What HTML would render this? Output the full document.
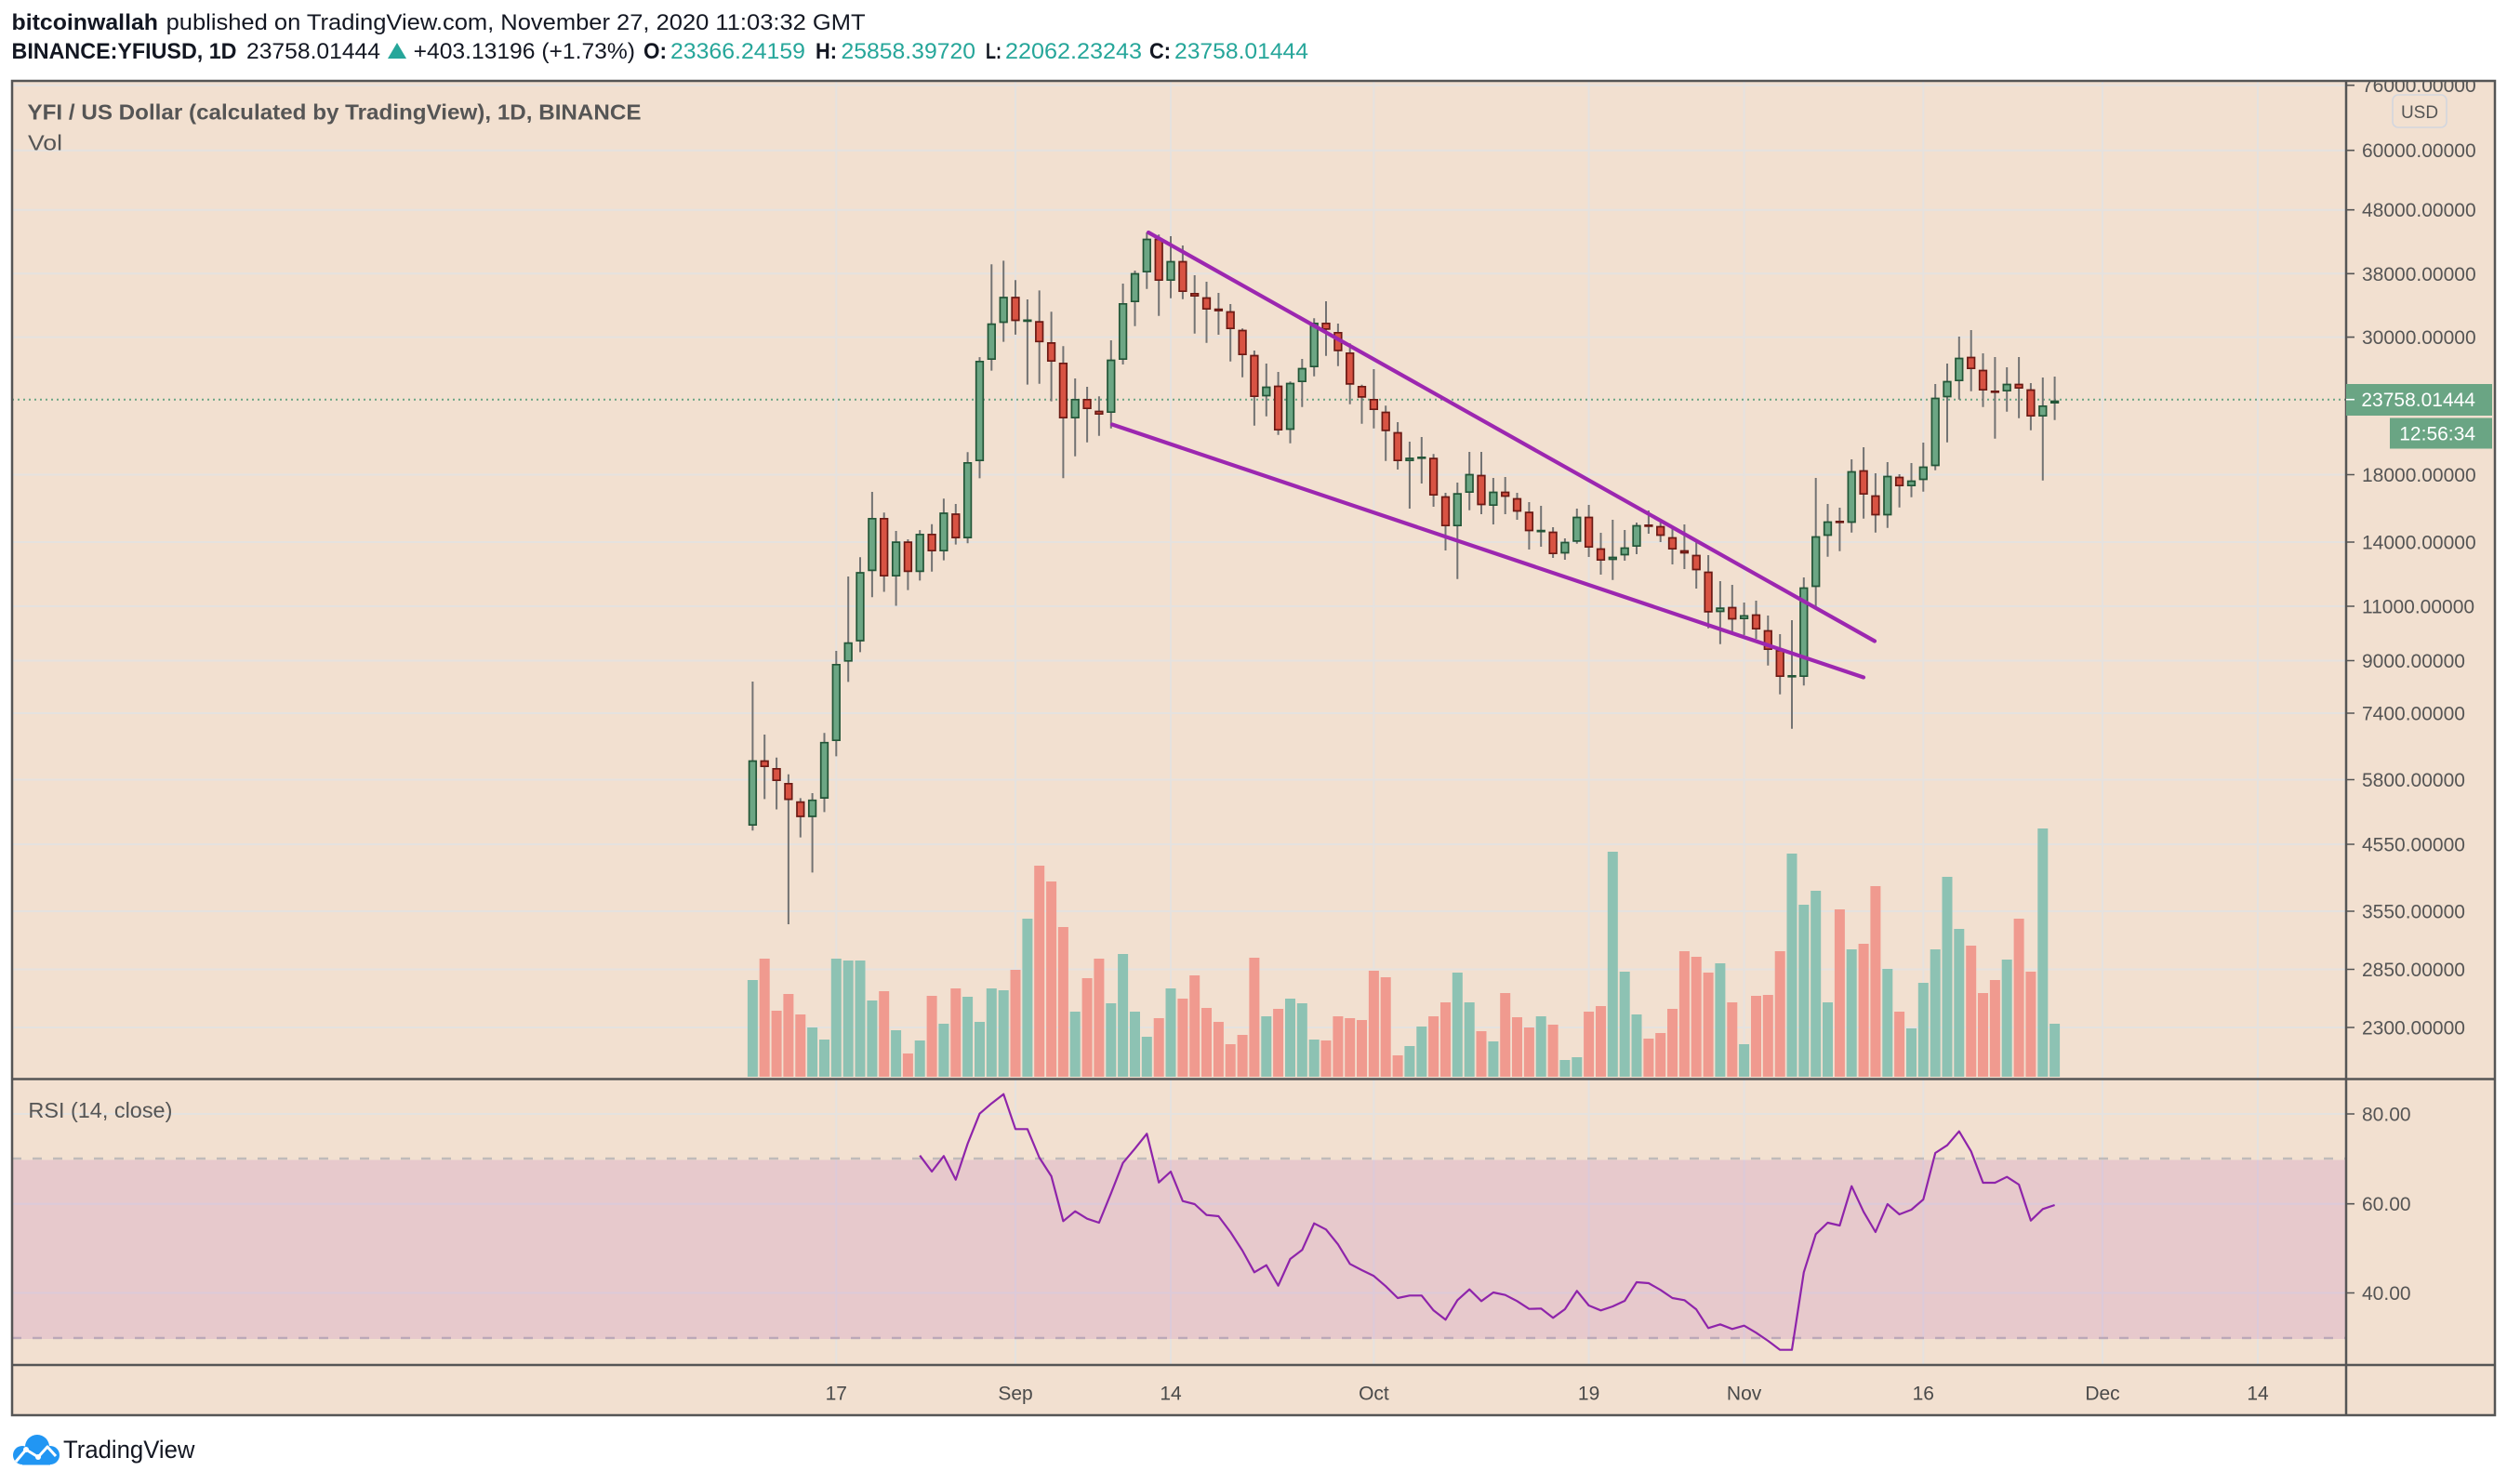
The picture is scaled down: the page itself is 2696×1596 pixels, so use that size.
<!DOCTYPE html>
<html><head><meta charset="utf-8"><style>
html,body{margin:0;padding:0;background:#fff;}
body{width:2696px;height:1596px;overflow:hidden;}
svg{display:block;}
text{font-family:"Liberation Sans",Arial,sans-serif;}
</style></head><body>
<svg width="2696" height="1596" viewBox="0 0 2696 1596" xmlns="http://www.w3.org/2000/svg">
<defs>
<clipPath id="mainclip"><rect x="14" y="88" width="2508" height="1071"/></clipPath>
<clipPath id="axclip"><rect x="2524" y="88" width="158" height="1071"/></clipPath>
</defs>
<rect x="0" y="0" width="2696" height="1596" fill="#ffffff"/>
<!-- header -->
<text x="12.5" y="32" font-size="24" font-weight="700" fill="#131722" textLength="157.5" lengthAdjust="spacingAndGlyphs">bitcoinwallah</text>
<text x="178.6" y="32" font-size="24" fill="#131722" textLength="752" lengthAdjust="spacingAndGlyphs">published on TradingView.com, November 27, 2020 11:03:32 GMT</text>
<text x="12.5" y="63" font-size="24" font-weight="700" fill="#131722" textLength="242" lengthAdjust="spacingAndGlyphs">BINANCE:YFIUSD, 1D</text>
<text x="265" y="63" font-size="24" fill="#131722" textLength="144" lengthAdjust="spacingAndGlyphs">23758.01444</text>
<polygon points="417,63 437,63 427,46" fill="#26a69a"/>
<text x="444.6" y="63" font-size="24" fill="#131722" textLength="238.4" lengthAdjust="spacingAndGlyphs">+403.13196 (+1.73%)</text>
<text x="692" y="63" font-size="24" font-weight="700" fill="#131722" textLength="25" lengthAdjust="spacingAndGlyphs">O:</text>
<text x="721" y="63" font-size="24" fill="#26a69a" textLength="145" lengthAdjust="spacingAndGlyphs">23366.24159</text>
<text x="877" y="63" font-size="24" font-weight="700" fill="#131722" textLength="23" lengthAdjust="spacingAndGlyphs">H:</text>
<text x="904.5" y="63" font-size="24" fill="#26a69a" textLength="144.5" lengthAdjust="spacingAndGlyphs">25858.39720</text>
<text x="1060" y="63" font-size="24" font-weight="700" fill="#131722" textLength="17" lengthAdjust="spacingAndGlyphs">L:</text>
<text x="1081" y="63" font-size="24" fill="#26a69a" textLength="147" lengthAdjust="spacingAndGlyphs">22062.23243</text>
<text x="1236" y="63" font-size="24" font-weight="700" fill="#131722" textLength="23" lengthAdjust="spacingAndGlyphs">C:</text>
<text x="1263" y="63" font-size="24" fill="#26a69a" textLength="144" lengthAdjust="spacingAndGlyphs">23758.01444</text>

<!-- chart background -->
<rect x="13" y="87" width="2670" height="1435" fill="#f2e0d0"/>

<!-- vertical gridlines -->
<path d="M899.3 87V1468M1092 87V1468M1259 87V1468M1477.4 87V1468M1708.6 87V1468M1875.6 87V1468M2068.3 87V1468M2261 87V1468M2428 87V1468" stroke="#e5e2df" stroke-width="2" fill="none"/>
<!-- horizontal gridlines main -->
<path d="M13 91.7H2523M13 161.7H2523M13 225.7H2523M13 294.3H2523M13 362.6H2523M13 510.5H2523M13 583H2523M13 652H2523M13 710.5H2523M13 767H2523M13 838.5H2523M13 908H2523M13 980H2523M13 1042.5H2523M13 1105H2523" stroke="#e5e2df" stroke-width="2" fill="none"/>
<!-- RSI gridlines -->
<path d="M13 1198H2523M13 1294.7H2523M13 1390.5H2523" stroke="#e5e2df" stroke-width="2" fill="none"/>
<!-- RSI dashed levels -->
<path d="M13 1246H2523" stroke="#c0bbba" stroke-width="2.5" stroke-dasharray="10 12" fill="none"/>
<path d="M13 1439H2523" stroke="#c0bbba" stroke-width="2.5" stroke-dasharray="10 12" fill="none"/>
<!-- RSI band -->
<rect x="13" y="1247.5" width="2510" height="192.5" fill="rgba(156,39,176,0.125)"/>

<g clip-path="url(#mainclip)">
<!-- volume green -->
<path fill="#8dc2b3" d="M803.9 1054h11V1158h-11zM868.1 1105h11V1158h-11zM881 1118h11V1158h-11zM893.8 1031h11V1158h-11zM906.7 1033h11V1158h-11zM919.5 1033h11V1158h-11zM932.4 1076h11V1158h-11zM958.1 1108h11V1158h-11zM983.7 1119h11V1158h-11zM1009.4 1101h11V1158h-11zM1035.1 1072h11V1158h-11zM1048 1099h11V1158h-11zM1060.8 1063h11V1158h-11zM1073.7 1065h11V1158h-11zM1099.4 988h11V1158h-11zM1150.7 1088h11V1158h-11zM1189.3 1079h11V1158h-11zM1202.1 1026h11V1158h-11zM1215 1088h11V1158h-11zM1227.8 1115h11V1158h-11zM1253.5 1063h11V1158h-11zM1356.3 1093h11V1158h-11zM1382 1074h11V1158h-11zM1394.8 1079h11V1158h-11zM1407.7 1118h11V1158h-11zM1510.4 1125h11V1158h-11zM1523.3 1104h11V1158h-11zM1561.8 1046h11V1158h-11zM1574.7 1078h11V1158h-11zM1600.4 1120h11V1158h-11zM1651.7 1093h11V1158h-11zM1677.4 1140h11V1158h-11zM1690.3 1137h11V1158h-11zM1728.8 916h11V1158h-11zM1741.7 1045h11V1158h-11zM1754.5 1091h11V1158h-11zM1844.4 1036h11V1158h-11zM1870.1 1123h11V1158h-11zM1921.5 918h11V1158h-11zM1934.3 973h11V1158h-11zM1947.2 958h11V1158h-11zM1960 1078h11V1158h-11zM1985.7 1021h11V1158h-11zM2024.3 1042h11V1158h-11zM2050 1106h11V1158h-11zM2062.8 1057h11V1158h-11zM2075.7 1021h11V1158h-11zM2088.5 943h11V1158h-11zM2101.3 999h11V1158h-11zM2152.7 1032h11V1158h-11zM2191.3 891h11V1158h-11zM2204.1 1101h11V1158h-11z"/>
<!-- volume red -->
<path fill="#f09a8f" d="M816.7 1031h11V1158h-11zM829.6 1087h11V1158h-11zM842.4 1069h11V1158h-11zM855.3 1091h11V1158h-11zM945.2 1066h11V1158h-11zM970.9 1133h11V1158h-11zM996.6 1071h11V1158h-11zM1022.3 1063h11V1158h-11zM1086.5 1043h11V1158h-11zM1112.2 931h11V1158h-11zM1125.1 948h11V1158h-11zM1137.9 997h11V1158h-11zM1163.6 1052h11V1158h-11zM1176.4 1031h11V1158h-11zM1240.7 1095h11V1158h-11zM1266.4 1074h11V1158h-11zM1279.2 1049h11V1158h-11zM1292 1084h11V1158h-11zM1304.9 1099h11V1158h-11zM1317.7 1123h11V1158h-11zM1330.6 1113h11V1158h-11zM1343.4 1030h11V1158h-11zM1369.1 1085h11V1158h-11zM1420.5 1119h11V1158h-11zM1433.4 1093h11V1158h-11zM1446.2 1095h11V1158h-11zM1459 1097h11V1158h-11zM1471.9 1044h11V1158h-11zM1484.7 1051h11V1158h-11zM1497.6 1135h11V1158h-11zM1536.1 1093h11V1158h-11zM1549 1078h11V1158h-11zM1587.5 1109h11V1158h-11zM1613.2 1068h11V1158h-11zM1626 1094h11V1158h-11zM1638.9 1105h11V1158h-11zM1664.6 1102h11V1158h-11zM1703.1 1088h11V1158h-11zM1716 1082h11V1158h-11zM1767.4 1117h11V1158h-11zM1780.2 1111h11V1158h-11zM1793 1085h11V1158h-11zM1805.9 1023h11V1158h-11zM1818.7 1029h11V1158h-11zM1831.6 1046h11V1158h-11zM1857.3 1078h11V1158h-11zM1883 1071h11V1158h-11zM1895.8 1070h11V1158h-11zM1908.7 1023h11V1158h-11zM1972.9 978h11V1158h-11zM1998.6 1015h11V1158h-11zM2011.4 953h11V1158h-11zM2037.1 1088h11V1158h-11zM2114.2 1017h11V1158h-11zM2127 1068h11V1158h-11zM2139.9 1054h11V1158h-11zM2165.6 988h11V1158h-11zM2178.4 1045h11V1158h-11z"/>

<!-- price line -->
<path d="M13 429.7H2523" stroke="#6aa584" stroke-width="2" stroke-dasharray="2 4" fill="none"/>

<!-- wicks -->
<path fill="none" stroke="#737373" stroke-width="2" d="M809.4 733V893.3M822.2 790V859.4M835.1 814.8V870.5M847.9 832.8V994M860.8 858.4V900.6M873.6 853V938.4M886.5 788.2V873.4M899.3 700V813.4M912.2 620V733.4M925 599.2V701.4M937.9 529V642.3M950.7 551.2V636.5M963.6 571V651.5M976.4 580V634.6M989.2 570.1V624.4M1002.1 563.8V614.7M1014.9 536.2V602.6M1027.8 542V585.6M1040.6 486.3V584.2M1053.5 384.1V514.4M1066.3 284.3V398.6M1079.2 280.4V367.6M1092 301.2V359.9M1104.9 322V413.6M1117.7 312.4V412.7M1130.6 335.2V431.6M1143.4 372.3V514.3M1156.2 407V490.7M1169.1 416V475.7M1181.9 426.3V468.7M1194.8 366V460.7M1207.6 305V392M1220.5 291V350.7M1233.3 250V310.7M1246.2 252.3V339.7M1259 254V320.7M1271.9 264V321.7M1284.7 296V358.7M1297.5 303V368.7M1310.4 315V360M1323.2 327V388.7M1336.1 353.3V405.7M1348.9 377V457.7M1361.8 391V447.7M1374.6 400V467.7M1387.5 410.3V476.7M1400.3 386V437.7M1413.2 342.3V404.7M1426 324V382.7M1438.9 348V393.7M1451.7 369.3V434.7M1464.5 413.7V455.7M1477.4 397V460.7M1490.2 436.3V495.7M1503.1 454V505M1515.9 475V547M1528.8 470V520M1541.6 488.3V545M1554.5 530V592M1567.3 519V622.7M1580.2 486V548.7M1593 486V553M1605.9 514V564M1618.7 513V553M1631.5 530V559M1644.4 540V591M1657.2 544V588M1670.1 567V600M1682.9 579V602M1695.8 547V584.7M1708.6 543V599M1721.5 573V618M1734.3 559V623.7M1747.2 570V603M1760 562V596M1772.9 549V574M1785.7 561.7V583M1798.5 568V607M1811.4 564V612M1824.2 583.3V633M1837.1 597V675.7M1849.9 625V692.7M1862.8 629V680.7M1875.6 648V683M1888.5 646V687.3M1901.3 662V715.7M1914.2 682V746.7M1927 667V783.7M1939.8 621V737.3M1952.7 514V652.7M1965.5 542V598.7M1978.4 546V592.7M1991.2 494V572.7M2004.1 481V557.7M2016.9 509V572.7M2029.8 497V567.7M2042.6 510V545.7M2055.5 498V534.7M2068.3 476V528.7M2081.2 413V505.7M2094 391V475.7M2106.8 362V429.7M2119.7 355V420.7M2132.5 380V437.7M2145.4 384V471.7M2158.2 395V442.7M2171.1 384V449.7M2183.9 412V462.7M2196.8 406V516.7M2209.6 405V451.7"/>

<!-- green bodies -->
<path fill="#6ca684" stroke="#235537" stroke-width="1.7" d="M805.6 818.5h7.6v68.7h-7.6zM869.8 860.7h7.6v17.3h-7.6zM882.7 798.7h7.6v59.4h-7.6zM895.5 714.8h7.6v81.4h-7.6zM908.4 691.6h7.6v19.2h-7.6zM921.2 616h7.6v73h-7.6zM934.1 557.8h7.6v55.6h-7.6zM959.8 583.1h7.6v36.1h-7.6zM985.4 574.8h7.6v39.6h-7.6zM1011.1 552h7.6v40.2h-7.6zM1036.8 497.8h7.6v80.3h-7.6zM1049.7 388.8h7.6v106.4h-7.6zM1062.5 348.6h7.6v37.6h-7.6zM1075.4 320h7.6v26.5h-7.6zM1101.1 344.4h7.6v1h-7.6zM1152.4 429.8h7.6v19.4h-7.6zM1191 387.5h7.6v55.7h-7.6zM1203.8 326.8h7.6v59.4h-7.6zM1216.7 294.5h7.6v29.7h-7.6zM1229.5 257.5h7.6v34.7h-7.6zM1255.2 281.5h7.6v19.7h-7.6zM1358 416.5h7.6v9h-7.6zM1383.7 412.5h7.6v49h-7.6zM1396.5 396.5h7.6v13.7h-7.6zM1409.4 347.8h7.6v46.4h-7.6zM1512.1 493h7.6v2.2h-7.6zM1525 491.8h7.6v1h-7.6zM1563.5 531.1h7.6v34.1h-7.6zM1576.4 510.5h7.6v18.7h-7.6zM1602.1 529.5h7.6v13.7h-7.6zM1653.4 570.6h7.6v1h-7.6zM1679.1 583.5h7.6v11h-7.6zM1692 556.5h7.6v25.4h-7.6zM1730.5 599.5h7.6v2h-7.6zM1743.4 589.5h7.6v7h-7.6zM1756.2 565.5h7.6v21.7h-7.6zM1846.1 654.1h7.6v3.4h-7.6zM1871.8 662.3h7.6v2.9h-7.6zM1923.2 726.8h7.6v1h-7.6zM1936 632.5h7.6v94.7h-7.6zM1948.9 577.5h7.6v53h-7.6zM1961.7 561.5h7.6v14h-7.6zM1987.4 507.5h7.6v54h-7.6zM2026 512.5h7.6v41h-7.6zM2051.7 517.5h7.6v4.7h-7.6zM2064.5 502.5h7.6v13h-7.6zM2077.4 428.5h7.6v72h-7.6zM2090.2 410.5h7.6v16h-7.6zM2103 385.5h7.6v23.7h-7.6zM2154.4 413.5h7.6v6.7h-7.6zM2193 436.8h7.6v10.4h-7.6zM2205.8 431.5h7.6v1.7h-7.6z"/>
<!-- red bodies -->
<path fill="#d85343" stroke="#6b1a14" stroke-width="1.7" d="M818.4 818.5h7.6v5.7h-7.6zM831.3 826.8h7.6v12.4h-7.6zM844.1 842.8h7.6v16.8h-7.6zM857 862.6h7.6v15.4h-7.6zM946.9 557.8h7.6v61.4h-7.6zM972.6 583.1h7.6v31.3h-7.6zM998.3 574.8h7.6v17.4h-7.6zM1024 553h7.6v25.1h-7.6zM1088.2 320h7.6v24.5h-7.6zM1113.9 346.1h7.6v21.2h-7.6zM1126.8 368.9h7.6v19.3h-7.6zM1139.6 390.8h7.6v58.4h-7.6zM1165.3 429.8h7.6v9.4h-7.6zM1178.1 442.5h7.6v2.7h-7.6zM1242.4 257.5h7.6v43.7h-7.6zM1268.1 281.5h7.6v31.7h-7.6zM1280.9 315.8h7.6v2.4h-7.6zM1293.7 320.5h7.6v11.7h-7.6zM1306.6 332.6h7.6v1.4h-7.6zM1319.4 335.5h7.6v17.7h-7.6zM1332.3 355.5h7.6v25.7h-7.6zM1345.1 382.5h7.6v43.7h-7.6zM1370.8 415.5h7.6v46.7h-7.6zM1422.2 347.8h7.6v6.1h-7.6zM1435.1 357.8h7.6v19.1h-7.6zM1447.9 379.8h7.6v33.1h-7.6zM1460.7 415.8h7.6v11.1h-7.6zM1473.6 429.8h7.6v10.4h-7.6zM1486.4 443.5h7.6v19.4h-7.6zM1499.3 465.5h7.6v29.7h-7.6zM1537.8 493.1h7.6v39.1h-7.6zM1550.7 534.5h7.6v30.7h-7.6zM1589.2 511.5h7.6v31h-7.6zM1614.9 529.5h7.6v4h-7.6zM1627.7 536.5h7.6v13h-7.6zM1640.6 551.1h7.6v19.4h-7.6zM1666.3 572.5h7.6v22.7h-7.6zM1704.8 556.5h7.6v31.7h-7.6zM1717.7 590.5h7.6v11.7h-7.6zM1769.1 564.8h7.6v1.1h-7.6zM1781.9 566.5h7.6v9h-7.6zM1794.7 578.5h7.6v11.7h-7.6zM1807.6 592.5h7.6v2h-7.6zM1820.4 597.5h7.6v15h-7.6zM1833.3 615.5h7.6v42.4h-7.6zM1859 653.5h7.6v12h-7.6zM1884.7 661.5h7.6v14.7h-7.6zM1897.5 678.5h7.6v19.7h-7.6zM1910.4 699.8h7.6v27.4h-7.6zM1974.6 560.8h7.6v1h-7.6zM2000.3 506.5h7.6v24.7h-7.6zM2013.1 533.5h7.6v20h-7.6zM2038.8 513.5h7.6v8.7h-7.6zM2115.9 384.5h7.6v11.7h-7.6zM2128.7 398.5h7.6v20.7h-7.6zM2141.6 420.8h7.6v1h-7.6zM2167.3 413.5h7.6v3.7h-7.6zM2180.1 419.5h7.6v27.7h-7.6z"/>

<!-- trendlines -->
<path d="M1235 250L2016 689.5M1196 456.5L2004 728.5" stroke="#9c27b0" stroke-width="4.2" stroke-linecap="round" fill="none"/>
</g>

<!-- RSI line -->
<polyline fill="none" stroke="#8e24aa" stroke-width="2.2" stroke-linejoin="round" points="989.2,1242.7 1002.1,1260 1014.9,1243.3 1027.8,1268.7 1040.6,1230 1053.5,1197.7 1066.3,1186.7 1079.2,1176.7 1092,1214.3 1104.9,1214.3 1117.7,1245 1130.6,1265 1143.4,1313.3 1156.2,1302.7 1169.1,1310.7 1181.9,1315 1194.8,1283.3 1207.6,1250.7 1220.5,1235.3 1233.3,1219.3 1246.2,1271.7 1259,1260 1271.9,1291.7 1284.7,1295 1297.5,1306.7 1310.4,1308 1323.2,1325 1336.1,1345 1348.9,1368.3 1361.8,1360.7 1374.6,1382.7 1387.5,1354 1400.3,1344.3 1413.2,1315.7 1426,1322.3 1438.9,1338.3 1451.7,1359.3 1464.5,1366 1477.4,1372.3 1490.2,1383.3 1503.1,1396 1515.9,1393.3 1528.8,1393.3 1541.6,1409.3 1554.5,1419.3 1567.3,1398.3 1580.2,1386.7 1593,1399.3 1605.9,1390 1618.7,1392.7 1631.5,1399.3 1644.4,1407.7 1657.2,1407.3 1670.1,1417.3 1682.9,1408 1695.8,1388.3 1708.6,1404 1721.5,1409.3 1734.3,1405 1747.2,1399 1760,1379 1772.9,1380 1785.7,1387.3 1798.5,1396 1811.4,1398.3 1824.2,1408.3 1837.1,1428.3 1849.9,1424.3 1862.8,1429.3 1875.6,1425.7 1888.5,1433.3 1901.3,1442 1914.2,1451.7 1927,1451.7 1939.8,1368.3 1952.7,1327.3 1965.5,1315 1978.4,1318 1991.2,1275.7 2004.1,1303.3 2016.9,1325 2029.8,1295 2042.6,1306 2055.5,1301 2068.3,1290 2081.2,1240 2094,1231.7 2106.8,1216.7 2119.7,1238.3 2132.5,1272 2145.4,1272 2158.2,1265.7 2171.1,1274 2183.9,1312.7 2196.8,1300.3 2209.6,1296"/>

<!-- pane labels -->
<text x="29.5" y="128.5" font-size="23" font-weight="700" fill="#555555" textLength="660" lengthAdjust="spacingAndGlyphs">YFI / US Dollar (calculated by TradingView), 1D, BINANCE</text>
<text x="30" y="161.5" font-size="23" fill="#555555" textLength="37" lengthAdjust="spacingAndGlyphs">Vol</text>
<text x="30.4" y="1202" font-size="23" fill="#555555" textLength="155" lengthAdjust="spacingAndGlyphs">RSI (14, close)</text>

<!-- axis frame lines -->
<path d="M2523 87V1522M13 1160.5H2683M13 1468H2683" stroke="#555555" stroke-width="2.5" fill="none"/>
<rect x="13" y="87" width="2670" height="1435" fill="none" stroke="#555555" stroke-width="2.5"/>

<!-- price ticks -->
<path d="M2523 91.7h9M2523 161.7h9M2523 225.7h9M2523 294.3h9M2523 362.6h9M2523 510.5h9M2523 583h9M2523 652h9M2523 710.5h9M2523 767h9M2523 838.5h9M2523 908h9M2523 980h9M2523 1042.5h9M2523 1105h9M2523 1198h9M2523 1294.7h9M2523 1390.5h9" stroke="#555555" stroke-width="1.6" fill="none"/>

<!-- price labels -->
<g font-size="21" fill="#555555" clip-path="url(#axclip)">
<text x="2540" y="99.2">76000.00000</text>
</g>
<g font-size="21" fill="#555555">
<text x="2540" y="169.2">60000.00000</text>
<text x="2540" y="233.2">48000.00000</text>
<text x="2540" y="301.8">38000.00000</text>
<text x="2540" y="370.1">30000.00000</text>
<text x="2540" y="518">18000.00000</text>
<text x="2540" y="590.5">14000.00000</text>
<text x="2540" y="659.5">11000.00000</text>
<text x="2540" y="718">9000.00000</text>
<text x="2540" y="774.5">7400.00000</text>
<text x="2540" y="846">5800.00000</text>
<text x="2540" y="915.5">4550.00000</text>
<text x="2540" y="987.5">3550.00000</text>
<text x="2540" y="1050">2850.00000</text>
<text x="2540" y="1112.5">2300.00000</text>
<text x="2540" y="1205.5">80.00</text>
<text x="2540" y="1302.2">60.00</text>
<text x="2540" y="1398">40.00</text>
</g>
<!-- USD box -->
<rect x="2573" y="102" width="58" height="35" rx="6" ry="6" fill="none" stroke="#d3d6de" stroke-width="1.6"/>
<text x="2602" y="127" font-size="19" fill="#555555" text-anchor="middle">USD</text>
<!-- current price labels -->
<rect x="2523" y="413" width="157" height="34" fill="#6aa584"/>
<path d="M2523 429.7h9" stroke="#ffffff" stroke-width="1.6"/>
<text x="2662" y="437" font-size="21" fill="#ffffff" text-anchor="end">23758.01444</text>
<rect x="2570" y="449.5" width="110" height="33" fill="#6aa584"/>
<text x="2662" y="473.5" font-size="21" fill="#ffffff" text-anchor="end">12:56:34</text>

<!-- time axis labels -->
<g font-size="21" fill="#4a4a4a" text-anchor="middle">
<text x="899.3" y="1505.5">17</text>
<text x="1092" y="1505.5">Sep</text>
<text x="1259" y="1505.5">14</text>
<text x="1477.4" y="1505.5">Oct</text>
<text x="1708.6" y="1505.5">19</text>
<text x="1875.6" y="1505.5">Nov</text>
<text x="2068.3" y="1505.5">16</text>
<text x="2261" y="1505.5">Dec</text>
<text x="2428" y="1505.5">14</text>
</g>

<!-- TradingView logo -->
<g fill="#2196f3">
<circle cx="40" cy="1556" r="13"/>
<circle cx="24" cy="1565" r="10"/>
<circle cx="54" cy="1565" r="10"/>
<rect x="24" y="1560" width="30" height="15.5"/>
</g>
<polyline points="17,1572 28,1559 41,1567 51,1556 60,1566" fill="none" stroke="#ffffff" stroke-width="3" stroke-linejoin="round"/>
<circle cx="28" cy="1559" r="3" fill="#ffffff"/>
<circle cx="41" cy="1567" r="3" fill="#ffffff"/>
<text x="68" y="1568" font-size="27" fill="#131722" textLength="141.5" lengthAdjust="spacingAndGlyphs">TradingView</text>
</svg>
</body></html>
